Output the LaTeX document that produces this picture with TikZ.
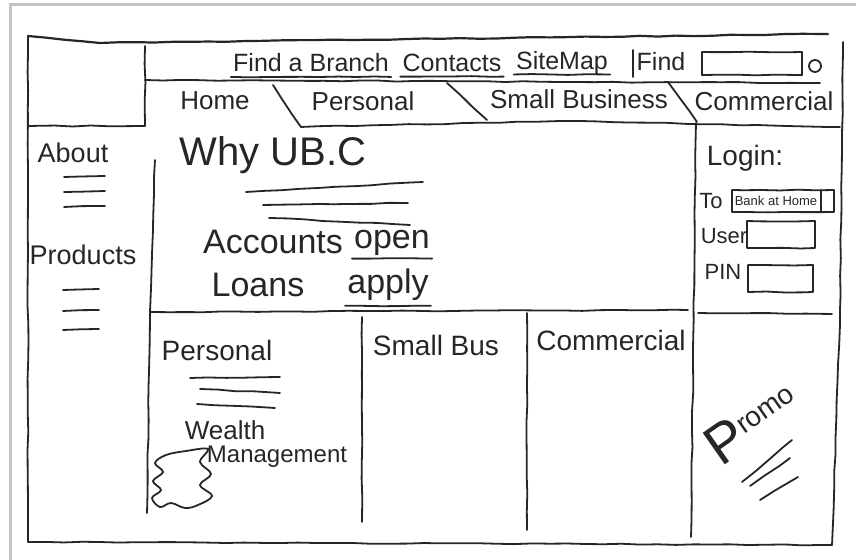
\documentclass[tikz,border=0pt]{standalone}
\usepackage{fontspec}
\setmainfont{Liberation Sans}
\usepackage{tikz}
\usetikzlibrary{decorations.pathmorphing}
\definecolor{SkInk}{RGB}{38,38,38}
\definecolor{SkFrame}{RGB}{196,196,196}
\newcommand{\skfs}[1]{\fontsize{#1}{#1}\selectfont}

\begin{document}
\begin{tikzpicture}[
    x=0.5pt, y=-0.5pt,
    pen/.style={draw=SkInk, line width=0.9pt, line cap=round, line join=round,
                decorate, decoration={random steps, segment length=9pt, amplitude=0.25pt}},
    txt/.style={inner sep=1pt, text=SkInk, anchor=center},
    util/.style={txt, font=\skfs{12.5}},
    tab/.style={txt, font=\skfs{13}},
    side/.style={txt, font=\skfs{13.5}},
    body/.style={txt, font=\skfs{17}},
    small/.style={txt, font=\skfs{11}},
    head/.style={txt, font=\skfs{14}}
  ]
  \pgfmathsetseed{7}
  \useasboundingbox (0,0) rectangle (856,560);
  \draw[SkFrame, line width=1.5pt] (10,560) -- (10,5) -- (856,5);

  % outer page and logo box
  \draw[pen, line width=1.1pt] (28,36) -- (100,43) -- (828,34);
  \draw[pen] (28,36) -- (28,542) -- (832,545);
  \draw[pen] (843,42) -- (840,310) -- (832,545);
  \draw[pen] (145,46) -- (145,126) -- (28,126);

  % utility bar
  \draw[pen] (145,80) -- (820,83);
  \node[util] (branch)   at (311,63) {Find a Branch};
  \node[util] (contacts) at (452,63) {Contacts};
  \node[util] (sitemap)  at (562,63) {SiteMap};
  \foreach \n in {branch, contacts, sitemap} {
    \draw[pen] ([yshift=-2.5pt]\n.base west) -- ([yshift=-2.5pt]\n.base east);
  }
  \draw[pen] (633,50) -- (633,77);
  \node[util] (find) at (661,62) {Find};
  \draw[pen] (702,52) rectangle (802,75);
  \draw[SkInk, line width=0.9pt] (815,66) circle (6);

  % tabs
  \node[tab] (home)   at (215,101) {Home};
  \node[tab] (tpers)  at (363,101) {Personal};
  \node[tab] (tsmall) at (579,99)  {Small Business};
  \node[tab] (tcomm)  at (764,101) {Commercial};
  \draw[pen] (273,85) -- (301,127);
  \draw[pen] (447,83) -- (487,120);
  \draw[pen] (668,82) -- (697,122);
  \draw[pen] (301,127) -- (560,121) -- (840,127);

  % left sidebar
  \node[side] (about)    at (73,153) {About};
  \node[side] (products) at (83,255) {Products};
  \foreach \y in {177,192,207} {
    \draw[pen] (64,\y) -- (105,\y-1);
  }
  \foreach \y in {290,311,330} {
    \draw[pen] (63,\y) -- (99,\y-1);
  }
  \draw[pen] (155,160) -- (150,312) -- (147,513);

  % main panel
  \node[txt, font=\skfs{20}] (why) at (273,155) {Why UB.C};
  \draw[pen] (246,192) -- (423,182);
  \draw[pen] (263,205) -- (408,203);
  \draw[pen] (269,218) -- (410,225);
  \node[body] (accounts) at (273,242) {Accounts};
  \node[body] (open)     at (392,243) {open};
  \node[body] (loans)    at (258,285) {Loans};
  \node[body] (apply)    at (388,285) {apply};
  \draw[pen] ([yshift=-5pt]open.base west) -- ([yshift=-5pt]open.base east);
  \draw[pen] ([yshift=-6pt]apply.base west) -- ([yshift=-6pt]apply.base east);
  \draw[pen] (150,312) -- (688,310);

  % login column
  \draw[pen] (696,123) -- (691,537);
  \node[txt, font=\skfs{14}] (login) at (745,158) {Login:};
  \node[small] (to) at (711,201) {To};
  \draw[pen] (732,190) rectangle (834,212);
  \draw[pen] (821,190) -- (821,212);
  \node[txt, font=\skfs{6.5}] (acct) at (776,201) {Bank at Home};
  \node[small] (user) at (724,236) {User};
  \draw[pen] (747,221) rectangle (815,248);
  \node[small] (pin) at (723,272) {PIN};
  \draw[pen] (748,265) rectangle (813,292);
  \draw[pen] (698,313) -- (832,314);

  % bottom panels
  \draw[pen] (362,317) -- (362,522);
  \draw[pen] (527,313) -- (527,530);
  \node[head] (bpers) at (217,350) {Personal};
  \draw[pen] (190,378) -- (280,377);
  \draw[pen] (200,389) -- (280,393);
  \draw[pen] (197,404) -- (275,408);
  \node[txt, font=\skfs{13}] (wealth) at (225,430) {Wealth};
  \node[txt, font=\skfs{12}] (mgmt)   at (277,457) {Management};
  \draw[SkInk, line width=0.9pt] plot[smooth cycle, tension=0.6] coordinates {
    (166,455) (186,451) (208,449) (200,462) (211,474) (200,485) (212,496)
    (198,505) (185,508) (171,503) (160,507) (152,498) (161,490) (153,481)
    (163,472) (155,463)};
  \node[head] (bsmall) at (436,345) {Small Bus};
  \node[head] (bcomm)  at (611,340) {Commercial};

  % promo
  \node[txt, rotate=35] (promo) at (752,423)
       {{\skfs{28}P}\raisebox{7pt}{\skfs{14}romo}};
  \draw[pen] (742,482) -- (792,440);
  \draw[pen] (750,486) -- (790,458);
  \draw[pen] (760,500) -- (798,477);
\end{tikzpicture}
\end{document}
